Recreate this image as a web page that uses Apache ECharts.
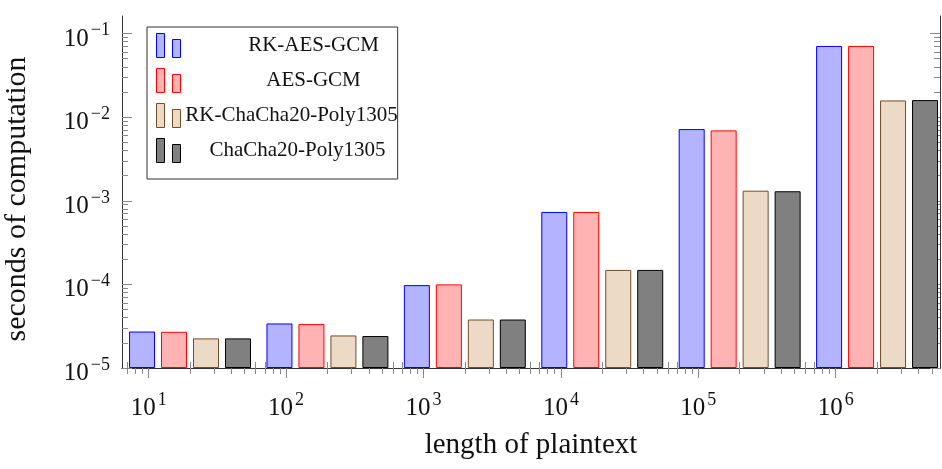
<!DOCTYPE html>
<html>
<head>
<meta charset="utf-8">
<script src="https://cdn.jsdelivr.net/npm/echarts@6/dist/echarts.min.js"></script>
<style>
  html, body { margin: 0; padding: 0; background: #fff; }
  #chart { width: 942px; height: 469px; }
</style>
</head>
<body>
<div id="chart"></div>
<script>
// plaintext length where each group of bars sits
var lengths = [20, 200, 2000, 20000, 200000, 2000000]
// seconds of computation
var rkAesGcm = [2.73e-5, 3.41e-5, 9.8e-5, 7.35e-4, 7.2e-3, 7.11e-2]
var aesGcm = [2.71e-5, 3.35e-5, 1.0e-4, 7.35e-4, 6.95e-3, 7.11e-2]
var rkChaCha = [2.26e-5, 2.45e-5, 3.8e-5, 1.49e-4, 1.32e-3, 1.585e-2]
var chaCha = [2.26e-5, 2.41e-5, 3.8e-5, 1.49e-4, 1.30e-3, 1.6e-2]
var seriesNames = ['RK-AES-GCM', 'AES-GCM', 'RK-ChaCha20-Poly1305', 'ChaCha20-Poly1305']
// decades that get a labelled tick
var xTickExp = [1, 2, 3, 4, 5, 6]
var yTickExp = [-5, -4, -3, -2, -1]

var FONT = 'Liberation Serif'
var X_MIN = 0.806
var X_MAX = 6.759
var Y_FLOOR = -5 // bars stand on 1e-5
var Y_TOP = -0.79
var LINE = '#333'
var TICK = '#888'

// log10 positions of 2..9 x 10^n inside (lo, hi)
function minorTicks(lo, hi) {
  var out = []
  for (var n = Math.floor(lo); n <= Math.ceil(hi); n++) {
    for (var k = 2; k <= 9; k++) {
      var v = n + Math.log10(k)
      if (v > lo && v < hi) out.push(v)
    }
  }
  return out
}

var rich = {
  b: { fontFamily: FONT, fontSize: 25, color: '#111', lineHeight: 30, verticalAlign: 'bottom' },
  s: { fontFamily: FONT, fontSize: 18, color: '#111', lineHeight: 20, verticalAlign: 'top', padding: [0, 0, 0, 2] }
}

function xAxisOf(pos, ticks, len, opts) {
  var a = {
    type: 'value', position: pos, min: X_MIN, max: X_MAX,
    splitLine: { show: false },
    axisLine: { show: false },
    axisLabel: { show: false },
    axisTick: { show: true, inside: false, length: len, customValues: ticks, lineStyle: { color: TICK } }
  }
  return Object.assign(a, opts || {})
}

function yAxisOf(pos, ticks, len, opts) {
  var a = {
    type: 'value', position: pos, min: 0, max: Y_TOP - Y_FLOOR,
    splitLine: { show: false },
    axisLine: { show: false },
    axisLabel: { show: false },
    axisTick: { show: true, inside: true, length: len, customValues: ticks, lineStyle: { color: TICK } }
  }
  return Object.assign(a, opts || {})
}

var xMajor = xTickExp.slice()
var xMinor = minorTicks(X_MIN, X_MAX)
var yMajor = yTickExp.map(function (e) { return e - Y_FLOOR })
var yMinor = minorTicks(0, Y_TOP - Y_FLOOR)

function barSeries(name, values, fill, stroke) {
  return {
    name: name,
    type: 'bar',
    xAxisIndex: 0,
    yAxisIndex: 0,
    barWidth: 26,
    barGap: '23%',
    itemStyle: { color: fill, borderColor: stroke, borderWidth: 1 },
    emphasis: { disabled: true },
    data: lengths.map(function (len, i) {
      return [Math.log10(len), Math.log10(values[i]) - Y_FLOOR]
    })
  }
}

// legend text sits a little off-centre in the original, per entry
var legendText = { fontFamily: FONT, fontSize: 21, lineHeight: 24, color: '#111', align: 'center' }
var legendStyle = {
  'RK-AES-GCM': 'a',
  'AES-GCM': 'a',
  'RK-ChaCha20-Poly1305': 'b',
  'ChaCha20-Poly1305': 'c'
}

var chart = echarts.init(document.getElementById('chart'))
chart.setOption({
  animation: false,
  grid: { left: 122, right: 2, top: 16, bottom: 101, outerBoundsMode: 'none' },
  legend: {
    orient: 'vertical',
    left: 147,
    top: 27,
    data: seriesNames,
    selectedMode: false,
    icon: 'path://M0,0h8v24h-8z M16,6h8v18h-8z',
    itemWidth: 24,
    itemHeight: 24,
    itemGap: 10,
    itemStyle: { borderWidth: 1 },
    padding: [6, 0, 16, 9],
    borderColor: LINE,
    borderWidth: 1,
    backgroundColor: '#fff',
    formatter: function (name) { return '{' + legendStyle[name] + '|' + name + '}' },
    textStyle: {
      rich: {
        a: Object.assign({ width: 168, padding: [0, 0, 0, 44] }, legendText),
        b: Object.assign({ width: 212 }, legendText),
        c: Object.assign({ width: 200, padding: [0, 0, 0, 12] }, legendText)
      }
    }
  },
  xAxis: [
    xAxisOf('bottom', xMajor, 10, {
      axisLine: { show: true, lineStyle: { color: LINE } },
      axisLabel: {
        show: true, customValues: xMajor, margin: 23, verticalAlign: 'top',
        formatter: function (v) { return '{b|10}{s|' + Math.round(v) + '}' },
        rich: rich
      },
      name: 'length of plaintext',
      nameLocation: 'middle',
      nameGap: 63,
      nameTextStyle: { fontFamily: FONT, fontSize: 29, color: '#111' }
    }),
    xAxisOf('bottom', xMinor, 6),
    xAxisOf('top', xMajor, 10, { axisLine: { show: true, lineStyle: { color: LINE } } }),
    xAxisOf('top', xMinor, 6)
  ],
  yAxis: [
    yAxisOf('left', yMajor, 10, {
      axisLine: { show: true, lineStyle: { color: LINE } },
      axisLabel: {
        show: true, customValues: yMajor, margin: 12, padding: [6, 0, 0, 0],
        formatter: function (v) { return '{b|10}{s|\u2212' + Math.round(-(v + Y_FLOOR)) + '}' },
        rich: rich
      },
      name: 'seconds of computation',
      nameLocation: 'middle',
      nameGap: 90,
      nameTextStyle: { fontFamily: FONT, fontSize: 30, color: '#111', padding: [0, 14, 0, 0] }
    }),
    yAxisOf('left', yMinor, 6),
    yAxisOf('right', yMajor, 10, { axisLine: { show: true, lineStyle: { color: LINE } } }),
    yAxisOf('right', yMinor, 6)
  ],
  series: [
    barSeries(seriesNames[0], rkAesGcm, '#b3b3ff', '#0000ff'),
    barSeries(seriesNames[1], aesGcm, '#ffb3b3', '#ff0000'),
    barSeries(seriesNames[2], rkChaCha, '#ecd9c6', '#734d26'),
    barSeries(seriesNames[3], chaCha, '#808080', '#000000')
  ]
})
</script>
</body>
</html>
